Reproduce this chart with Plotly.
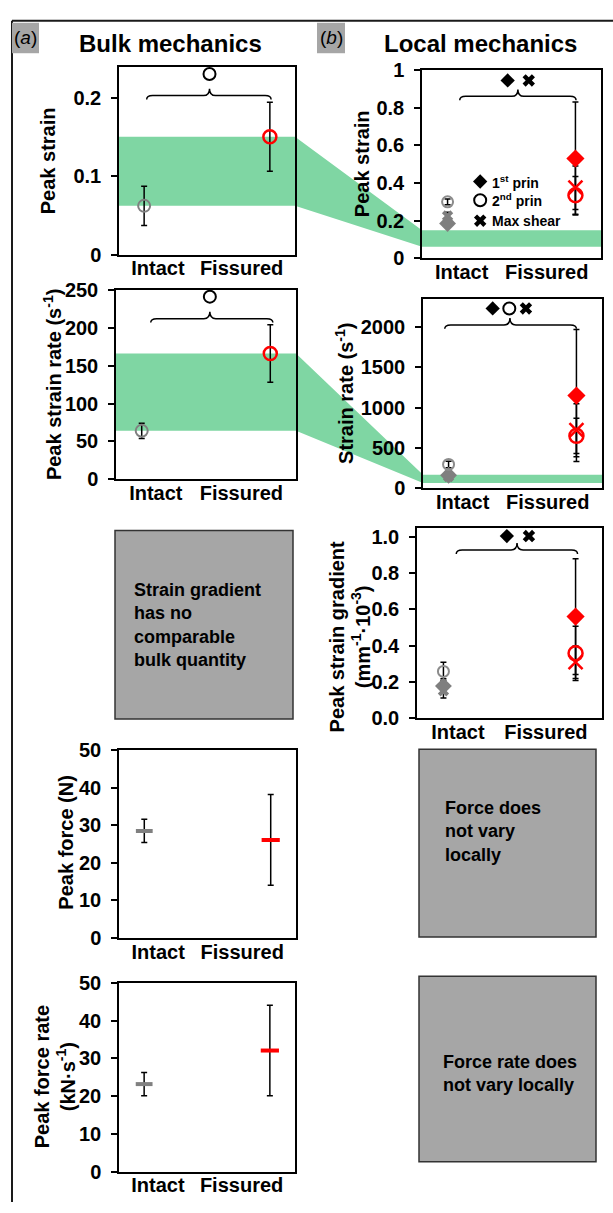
import plotly.graph_objects as go

W, H = 613, 1213

# ---------------- data ----------------
categories = ["Intact", "Fissured"]
cat_x = [0, 1]

bulk_strain = [0.062, 0.150]
bulk_strain_sd = [0.025, 0.044]
bulk_strain_rate = [64, 166]
bulk_strain_rate_sd = [10, 38]
bulk_force = [28.5, 26.1]
bulk_force_sd = [3.1, 12.1]
bulk_force_rate = [23.2, 32.1]
bulk_force_rate_sd = [3.1, 12.0]

series_names = ["1st prin", "2nd prin", "Max shear"]

local_strain_1st = [0.185, 0.530]
local_strain_1st_sd = [0.020, 0.300]
local_strain_2nd = [0.300, 0.335]
local_strain_2nd_sd = [0.015, 0.100]
local_strain_shear = [0.225, 0.375]
local_strain_shear_sd = [0.020, 0.115]

local_rate_1st = [160, 1150]
local_rate_1st_sd = [40, 820]
local_rate_2nd = [295, 650]
local_rate_2nd_sd = [40, 220]
local_rate_shear = [145, 720]
local_rate_shear_sd = [35, 330]

local_grad_1st = [0.176, 0.560]
local_grad_1st_sd = [0.040, 0.320]
local_grad_2nd = [0.257, 0.357]
local_grad_2nd_sd = [0.050, 0.150]
local_grad_shear = [0.150, 0.308]
local_grad_shear_sd = [0.040, 0.090]

strain_ticks = [0, 0.1, 0.2]
strain_ticktext = ["0", "0.1", "0.2"]
rate_ticks = [0, 50, 100, 150, 200, 250]
force_ticks = [0, 10, 20, 30, 40, 50]
local_strain_ticks = [0, 0.2, 0.4, 0.6, 0.8, 1.0]
local_strain_ticktext = ["0", "0.2", "0.4", "0.6", "0.8", "1"]
local_rate_ticks = [0, 500, 1000, 1500, 2000]
local_grad_ticks = [0, 0.2, 0.4, 0.6, 0.8, 1.0]
local_grad_ticktext = ["0.0", "0.2", "0.4", "0.6", "0.8", "1.0"]

# ---------------- style / layout ----------------
FONT = "Liberation Sans, Arial, Helvetica, sans-serif"
GREY = "#808080"
RED = "#ff0000"
GREEN = "#7fd6a3"
BOXGREY = "#a6a6a6"
XR = [-0.2, 1.2]
XLABEL_POS = [0.11, 0.775]
TICKSIZE = 20

# panel pixel boxes: left, right, top, bottom
panels = {
    "P1": dict(ax=1, box=(119, 295, 57, 248), yr=[0, 0.239], tv=strain_ticks, tt=strain_ticktext),
    "P2": dict(ax=2, box=(116, 296, 284, 477), yr=[0, 250], tv=rate_ticks, tt=[str(v) for v in rate_ticks]),
    "P4": dict(ax=3, box=(119, 296, 753, 944), yr=[0, 50], tv=force_ticks, tt=[str(v) for v in force_ticks]),
    "P5": dict(ax=4, box=(119, 295, 990, 1182), yr=[0, 50], tv=force_ticks, tt=[str(v) for v in force_ticks]),
    "R1": dict(ax=5, box=(422, 601, 60, 252), yr=[0, 1.0], tv=local_strain_ticks, tt=local_strain_ticktext),
    "R2": dict(ax=6, box=(423, 602, 293, 486), yr=[0, 2354], tv=local_rate_ticks, tt=[str(v) for v in local_rate_ticks]),
    "R3": dict(ax=7, box=(417, 602, 527, 720), yr=[0, 1.047], tv=local_grad_ticks, tt=local_grad_ticktext),
}


def pxx(px):
    return px / W


def pxy(py):
    return 1 - py / H


def d2px(p, x, y):
    l, r, t, b = panels[p]["box"]
    yr = panels[p]["yr"]
    px = l + (x - XR[0]) / (XR[1] - XR[0]) * (r - l)
    py = b - (y - yr[0]) / (yr[1] - yr[0]) * (b - t)
    return px, py


def axn(p):
    n = panels[p]["ax"]
    return ("x" if n == 1 else f"x{n}"), ("y" if n == 1 else f"y{n}")


fig = go.Figure()
layout = dict(
    width=W, height=H, margin=dict(l=0, r=0, t=0, b=0),
    paper_bgcolor="white", plot_bgcolor="rgba(0,0,0,0)",
    showlegend=False,
    font=dict(family=FONT, size=TICKSIZE, color="black", weight="bold"),
)

for p, d in panels.items():
    n = d["ax"]
    l, r, t, b = d["box"]
    xk = "xaxis" if n == 1 else f"xaxis{n}"
    yk = "yaxis" if n == 1 else f"yaxis{n}"
    xa, ya = axn(p)
    layout[xk] = dict(
        domain=[pxx(l), pxx(r)], range=XR, anchor=ya,
        tickvals=XLABEL_POS, ticktext=categories, ticks="",
        showline=True, mirror=True, linecolor="black", linewidth=1.5,
        showgrid=False, zeroline=False, ticklabelstandoff=-5,
        tickfont=dict(size=TICKSIZE, family=FONT, weight="bold"),
    )
    layout[yk] = dict(
        domain=[pxy(b), pxy(t)], range=d["yr"], anchor=xa,
        tickvals=d["tv"], ticktext=d["tt"], ticks="outside", ticklen=6,
        tickwidth=1.5, tickcolor="black",
        showline=True, mirror=True, linecolor="black", linewidth=1.5,
        showgrid=False, zeroline=False, ticklabelstandoff=6,
        tickfont=dict(size=TICKSIZE, family=FONT, weight="bold"),
    )

shapes = []
annotations = []

# outer frame
shapes.append(dict(type="line", xref="paper", yref="paper", x0=pxx(12), x1=pxx(613), y0=pxy(10), y1=pxy(10),
                   line=dict(color="#1a1a1a", width=2)))
shapes.append(dict(type="line", xref="paper", yref="paper", x0=pxx(12), x1=pxx(12), y0=pxy(10), y1=pxy(1213),
                   line=dict(color="#1a1a1a", width=2)))

# green bands: bulk range (intact mean .. fissured mean) carried to the local panel
for bp, lp, vals in [("P1", "R1", bulk_strain), ("P2", "R2", bulk_strain_rate)]:
    lo, hi = min(vals), max(vals)
    bl, br, _, _ = panels[bp]["box"]
    ll, lr, _, _ = panels[lp]["box"]
    _, bhi = d2px(bp, 0, hi)
    _, blo = d2px(bp, 0, lo)
    _, lhi = d2px(lp, 0, hi)
    _, llo = d2px(lp, 0, lo)
    pts = [(bl, bhi), (br, bhi), (ll, lhi), (lr, lhi), (lr, llo), (ll, llo), (br, blo), (bl, blo)]
    path = "M " + " L ".join(f"{pxx(x):.5f},{pxy(y):.5f}" for x, y in pts) + " Z"
    shapes.append(dict(type="path", xref="paper", yref="paper", path=path, fillcolor=GREEN,
                       line=dict(width=0), layer="below"))


def err_trace(p, y, sd):
    xa, ya = axn(p)
    return go.Scatter(x=cat_x, y=y, xaxis=xa, yaxis=ya, mode="markers",
                      marker=dict(size=1, color="rgba(0,0,0,0)"),
                      error_y=dict(type="data", array=sd, color="black", thickness=1.5, width=3),
                      hoverinfo="skip")


def mk_trace(p, x, y, symbol, size, color, lw=0, name=None):
    xa, ya = axn(p)
    return go.Scatter(x=x, y=y, xaxis=xa, yaxis=ya, mode="markers", name=name,
                      marker=dict(symbol=symbol, size=size, color=color,
                                  line=dict(color=color, width=lw)),
                      cliponaxis=False)


# bulk panels
for p, m, s in [("P1", bulk_strain, bulk_strain_sd), ("P2", bulk_strain_rate, bulk_strain_rate_sd)]:
    fig.add_trace(err_trace(p, m, s))
    fig.add_trace(mk_trace(p, [cat_x[0]], [m[0]], "circle-open", 12, GREY, 2, categories[0]))
    fig.add_trace(mk_trace(p, [cat_x[1]], [m[1]], "circle-open", 13, RED, 2.5, categories[1]))

for p, m, s in [("P4", bulk_force, bulk_force_sd), ("P5", bulk_force_rate, bulk_force_rate_sd)]:
    fig.add_trace(err_trace(p, m, s))
    fig.add_trace(mk_trace(p, [cat_x[0]], [m[0]], "line-ew", 12, GREY, 4, categories[0]))
    fig.add_trace(mk_trace(p, [cat_x[1]], [m[1]], "line-ew", 13, RED, 4, categories[1]))

# local panels
local_sets = {
    "R1": [(local_strain_1st, local_strain_1st_sd), (local_strain_2nd, local_strain_2nd_sd),
           (local_strain_shear, local_strain_shear_sd)],
    "R2": [(local_rate_1st, local_rate_1st_sd), (local_rate_2nd, local_rate_2nd_sd),
           (local_rate_shear, local_rate_shear_sd)],
    "R3": [(local_grad_1st, local_grad_1st_sd), (local_grad_2nd, local_grad_2nd_sd),
           (local_grad_shear, local_grad_shear_sd)],
}
sym_intact = [("diamond", 13, "#7f7f7f", 0), ("circle-open", 11, "#8c8c8c", 2), ("x", 10, "#7f7f7f", 0)]
sym_fiss = [("diamond", 14, RED, 0), ("circle-open", 14, RED, 2.5), ("x-thin-open", 14, RED, 2.5)]
for p, sets in local_sets.items():
    for m, s in sets:
        fig.add_trace(err_trace(p, m, s))
    for i in [2, 0, 1]:
        m, s = sets[i]
        sy, sz, c, lw = sym_intact[i]
        fig.add_trace(mk_trace(p, [cat_x[0]], [m[0]], sy, sz, c, lw, series_names[i]))
    for i in [0, 2, 1]:
        m, s = sets[i]
        sy, sz, c, lw = sym_fiss[i]
        fig.add_trace(mk_trace(p, [cat_x[1]], [m[1]], sy, sz, c, lw, series_names[i]))


# significance braces
def brace(p, xl, xr, xm, ylev):
    pl, lev = d2px(p, xl, ylev)
    pr, _ = d2px(p, xr, ylev)
    pm, _ = d2px(p, xm, ylev)
    d, t, r = 4, 7, 6
    pts = [
        ("M", [(pl, lev + d)]),
        ("Q", [(pl, lev), (pl + r, lev)]),
        ("L", [(pm - r, lev)]),
        ("Q", [(pm, lev), (pm, lev - t)]),
        ("Q", [(pm, lev), (pm + r, lev)]),
        ("L", [(pr - r, lev)]),
        ("Q", [(pr, lev), (pr, lev + d)]),
    ]
    path = " ".join(cmd + " " + " ".join(f"{pxx(x):.5f},{pxy(y):.5f}" for x, y in ps) for cmd, ps in pts)
    shapes.append(dict(type="path", xref="paper", yref="paper", path=path,
                       line=dict(color="black", width=1.5)))


brace("P1", 0.02, 1.01, 0.52, 0.2025)
brace("P2", 0.07, 1.02, 0.53, 212)
brace("R1", 0.095, 1.005, 0.55, 0.86)
brace("R2", -0.03, 1.0, 0.48, 2028)
brace("R3", 0.097, 1.015, 0.557, 0.928)

# significance symbols above braces
fig.add_trace(mk_trace("P1", [0.52], [0.230], "circle-open", 12, "black", 2))
fig.add_trace(mk_trace("P2", [0.53], [241], "circle-open", 12, "black", 2))
fig.add_trace(mk_trace("R1", [0.47], [0.944], "diamond", 11, "black", 0))
fig.add_trace(mk_trace("R1", [0.635], [0.944], "x", 11, "black", 0))
fig.add_trace(mk_trace("R2", [0.345], [2233], "diamond", 11, "black", 0))
fig.add_trace(mk_trace("R2", [0.475], [2233], "circle-open", 12, "black", 2))
fig.add_trace(mk_trace("R2", [0.605], [2233], "x", 11, "black", 0))
fig.add_trace(mk_trace("R3", [0.48], [1.005], "diamond", 11, "black", 0))
fig.add_trace(mk_trace("R3", [0.647], [1.005], "x", 11, "black", 0))

# legend inside R1
leg_items = [("diamond", 11, 0, "1<sup>st</sup> prin", 0.408),
             ("circle-open", 12, 2, "2<sup>nd</sup> prin", 0.309),
             ("x", 11, 0, "Max shear", 0.200)]
for sy, sz, lw, txt, yy in leg_items:
    fig.add_trace(mk_trace("R1", [0.255], [yy], sy, sz, "black", lw))
    annotations.append(dict(xref="x5", yref="y5", x=0.33, y=yy, text=txt, showarrow=False,
                            xanchor="left", yanchor="middle", font=dict(size=14, family=FONT, weight="bold")))

# y-axis titles
ytitles = [
    ("Peak strain", 48, 152),
    ("Peak strain rate (s<sup>-1</sup>)", 52, 381),
    ("Peak force (N)", 66, 847),
    ("Peak force rate<br>(kN·s<sup>-1</sup>)", 55, 1086),
    ("Peak strain", 362, 156),
    ("Strain rate (s<sup>-1</sup>)", 345, 390),
    ("Peak strain gradient<br>(mm<sup>-1</sup>·10<sup>-3</sup>)", 350, 637),
]
for txt, x, y in ytitles:
    annotations.append(dict(xref="paper", yref="paper", x=pxx(x), y=pxy(y), text=txt, textangle=-90,
                            showarrow=False, xanchor="center", yanchor="middle",
                            font=dict(size=TICKSIZE, family=FONT, weight="bold")))

# column headers
for lab, bx0, bx1, title, tx in [("(<i>a</i>)", 12, 39, "Bulk mechanics", 170),
                                  ("(<i>b</i>)", 317, 345, "Local mechanics", 481)]:
    shapes.append(dict(type="rect", xref="paper", yref="paper", x0=pxx(bx0), x1=pxx(bx1), y0=pxy(43), y1=pxy(12),
                       fillcolor=BOXGREY, line=dict(width=0)))
    annotations.append(dict(xref="paper", yref="paper", x=pxx((bx0 + bx1) / 2), y=pxy(27), text=lab,
                            showarrow=False, xanchor="center", yanchor="middle",
                            font=dict(size=19, family=FONT, weight="normal")))
    annotations.append(dict(xref="paper", yref="paper", x=pxx(tx), y=pxy(33), text=title,
                            showarrow=False, xanchor="center", yanchor="middle",
                            font=dict(size=24, family=FONT, weight="bold")))

# grey "no comparable" boxes
boxes = [
    ((115, 293, 529, 721), "Strain gradient<br>has no<br>comparable<br>bulk quantity", 132, 625),
    ((419, 596, 752, 943), "Force does<br>not vary<br>locally", 443, 836),
    ((419, 596, 983, 1172), "Force rate does<br>not vary locally", 441, 1082),
]
for (l, r, t, b), txt, tx, ty in boxes:
    shapes.append(dict(type="rect", xref="paper", yref="paper", x0=pxx(l), x1=pxx(r), y0=pxy(b), y1=pxy(t),
                       fillcolor=BOXGREY, line=dict(color="#333333", width=1.5)))
    annotations.append(dict(xref="paper", yref="paper", x=pxx(tx), y=pxy(ty), text=txt, showarrow=False,
                            xanchor="left", yanchor="middle", align="left",
                            font=dict(size=18, family=FONT, weight="bold")))

layout["shapes"] = shapes
layout["annotations"] = annotations
fig.update_layout(**layout)
fig.write_html("out.html", config={"displayModeBar": False},
               post_script="document.body.style.margin='0';")
